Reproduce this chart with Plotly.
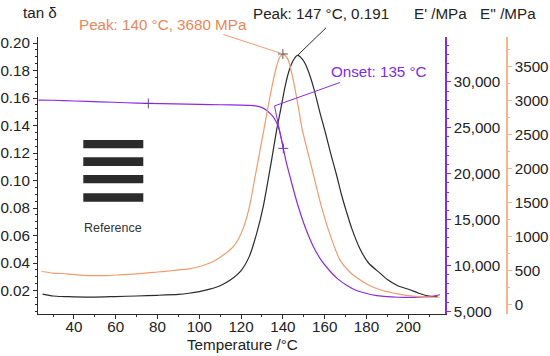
import plotly.graph_objects as go

# ---------------- data ----------------
tan_T = [25, 30, 35, 40, 50, 60, 70, 80, 90, 95, 100, 105, 110, 115, 120, 124, 127.5, 130.6,
         134.6, 137, 139, 141, 143, 145, 147, 149.5, 151, 153, 155, 157.8, 160.5, 163, 165.7,
         168, 170.5, 173, 177, 181, 186.5, 190, 195, 200.8, 205, 210.4, 214]
tan_delta = [0.0174, 0.0160, 0.0156, 0.0154, 0.0152, 0.0156, 0.0160, 0.0165, 0.0172, 0.0180,
             0.0192, 0.0210, 0.0235, 0.0278, 0.0345, 0.045, 0.0617, 0.081,
             0.1149, 0.1366, 0.152, 0.168, 0.180, 0.1875, 0.191, 0.188, 0.184, 0.176, 0.166,
             0.149, 0.134, 0.119, 0.104, 0.090, 0.077, 0.065, 0.050, 0.040, 0.0326, 0.028,
             0.0235, 0.0205, 0.018, 0.0158, 0.0155]

E2_T = [24.5, 30, 36.5, 45, 55, 62, 70, 80, 87.5, 95, 100.3, 106.7, 112, 116.3, 119, 121,
        122.7, 124.3, 126, 128.2, 130, 131.4, 133, 135.4, 137, 138.6, 140, 141.3, 142.6, 145,
        147.4, 149, 151, 152.9, 155.5, 158, 162, 167.3, 172, 176.9, 181, 186.5, 195, 202.3,
        208, 215]
E2 = [488, 465, 454, 430, 428, 439, 452, 480, 502, 525, 561, 634, 740, 854, 980, 1120,
      1280, 1480, 1760, 2123, 2420, 2650, 2920, 3294, 3500, 3635, 3680, 3650, 3587, 3294,
      2903, 2610, 2350, 2123, 1800, 1490, 1080, 659, 480, 366, 290, 220, 160, 125,
      115, 110]

E1_T = [23, 30, 40, 52.5, 65, 75.6, 88, 100.3, 110, 120, 124.3, 127, 130, 132, 134, 135.4,
        136.6, 137.8, 139, 140.2, 141.8, 143.4, 145.5, 147.4, 150, 152, 154.5, 158, 162.5,
        166, 170.5, 175, 180.1, 185, 189.7, 195, 202.4, 207, 210.4, 215.2]
E1 = [28010, 28000, 27920, 27830, 27730, 27650, 27600, 27545, 27510, 27480, 27450, 27380,
      27200, 26950, 26550, 26197, 25750, 25110, 24100, 22760, 21100, 19700, 17900, 16400,
      14600, 13400, 12100, 10700, 9400, 8600, 7850, 7300, 6950, 6720, 6600, 6540, 6522,
      6570, 6630, 6815]

# onset construction (E')
mark_T = [75.6, 140.2]
mark_E = [27650, 22760]
tangent_T = [136, 140.2]
tangent_E = [27380, 22760]
onset_T, onset_E = 136, 27380

peak_tan_T, peak_tan = 147, 0.191
peak_E2_T, peak_E2 = 140, 3680

x_ticks = [40, 60, 80, 100, 120, 140, 160, 180, 200]
tan_ticks = [0.02, 0.04, 0.06, 0.08, 0.10, 0.12, 0.14, 0.16, 0.18, 0.20]
E1_ticks = [5000, 10000, 15000, 20000, 25000, 30000]
E2_ticks = [0, 500, 1000, 1500, 2000, 2500, 3000, 3500]

# ---------------- style ----------------
BLACK = "#2b2b2b"
ORANGE = "#f29b6c"
ORANGE_TXT = "#e8875a"
PURPLE = "#8a2be2"
PURPLE_TXT = "#7a2ee0"
FONT = "Liberation Sans, Arial, sans-serif"
FS = 15.2

fig = go.Figure()
fig.add_trace(go.Scatter(x=tan_T, y=tan_delta, mode="lines", yaxis="y",
                         line=dict(color=BLACK, width=1.2, shape="spline", smoothing=0.6)))
fig.add_trace(go.Scatter(x=E1_T, y=E1, mode="lines", yaxis="y2",
                         line=dict(color=PURPLE, width=1.2, shape="spline", smoothing=0.6)))
fig.add_trace(go.Scatter(x=tangent_T, y=tangent_E, mode="lines", yaxis="y2",
                         line=dict(color=PURPLE, width=1)))
fig.add_trace(go.Scatter(x=E2_T, y=E2, mode="lines", yaxis="y3",
                         line=dict(color=ORANGE, width=1.2, shape="spline", smoothing=0.6)))
fig.add_trace(go.Scatter(x=mark_T, y=mark_E, mode="markers", yaxis="y2",
                         marker=dict(symbol="cross-thin", size=7, line=dict(color="#6a3aa0", width=1))))
fig.add_trace(go.Scatter(x=[peak_E2_T], y=[peak_E2], mode="markers", yaxis="y3",
                         marker=dict(symbol="cross-thin", size=7, line=dict(color="#555", width=1))))

W, H = 550, 356
L, R, T, B = 38, 43, 37, 42
pw = W - L - R
ph = H - T - B
xdom = (445 - L) / pw


def px(xp):
    return (xp - L) / pw


def py(yp):
    return (H - B - yp) / ph


tickfont = dict(family=FONT, size=FS, color="#222")

fig.update_layout(
    width=W, height=H, margin=dict(l=L, r=R, t=T, b=B, autoexpand=False),
    paper_bgcolor="white", plot_bgcolor="white", showlegend=False,
    font=dict(family=FONT, size=FS, color="#222"),
    xaxis=dict(domain=[0, xdom], range=[22.8, 217.6], tickvals=x_ticks, showgrid=False,
               zeroline=False, showline=True, linecolor=BLACK, linewidth=1,
               ticks="outside", ticklen=4, tickcolor=BLACK, tickfont=tickfont,
               ticklabelstandoff=-5,
               minor=dict(dtick=10, ticks="outside", ticklen=2, tickcolor=BLACK)),
    yaxis=dict(range=[0.0029, 0.2044], tickvals=tan_ticks, tickformat=".2f", showgrid=False,
               zeroline=False, showline=True, linecolor=BLACK, linewidth=1,
               ticks="outside", ticklen=4, tickcolor=BLACK, tickfont=tickfont,
               minor=dict(dtick=0.005, tick0=0, ticks="outside", ticklen=2, tickcolor=BLACK)),
    yaxis2=dict(range=[4717, 34890], tickvals=E1_ticks, tickformat=",d", overlaying="y",
                side="right", anchor="x", showgrid=False, zeroline=False, showline=True,
                linecolor=PURPLE, linewidth=1.5, ticks="outside", ticklen=4, tickcolor=PURPLE,
                tickfont=tickfont,
                minor=dict(dtick=1000, tick0=0, ticks="outside", ticklen=2, tickcolor=PURPLE)),
    yaxis3=dict(range=[-136, 3929], tickvals=E2_ticks, tickformat="d", overlaying="y",
                side="right", anchor="free", position=1.0, showgrid=False, zeroline=False,
                showline=True, linecolor="#f5b48a", linewidth=1.5, ticks="outside", ticklen=4,
                tickcolor="#f5b48a", tickfont=tickfont,
                minor=dict(dtick=250, tick0=0, ticks="outside", ticklen=2, tickcolor="#f5b48a")),
)

ann = []
# leader lines
ann.append(dict(x=peak_E2_T, y=peak_E2, xref="x", yref="y3", text="", showarrow=True,
                arrowhead=0, arrowwidth=1, arrowcolor=ORANGE, ax=-61, ay=-20, standoff=0))
ann.append(dict(x=peak_tan_T, y=peak_tan, xref="x", yref="y", text="", showarrow=True,
                arrowhead=0, arrowwidth=1, arrowcolor=BLACK, ax=30, ay=-29, standoff=0))
ann.append(dict(x=onset_T, y=onset_E, xref="x", yref="y2", text="", showarrow=True,
                arrowhead=0, arrowwidth=1, arrowcolor=PURPLE, ax=67, ay=-24, standoff=0))


def txt(t, xp, yp, color="#222", size=FS, xanchor="left"):
    ann.append(dict(text=t, x=px(xp), y=py(yp), xref="paper", yref="paper", showarrow=False,
                    xanchor=xanchor, yanchor="middle", font=dict(family=FONT, size=size, color=color)))


txt("Peak: 140 °C, 3680 MPa", 77, 24, ORANGE_TXT)
txt("Peak: 147 °C, 0.191", 251, 14, "#222")
txt("Onset: 135 °C", 329, 71, PURPLE_TXT)
txt("tan δ", 21, 12)
txt("E' /MPa", 412, 13)
txt("E'' /MPa", 478, 13)
txt("Temperature /°C", 242, 344, xanchor="center")
txt("Reference", 112.5, 228, "#333", 12.5, xanchor="center")
fig.update_layout(annotations=ann)

# redacted legend bars
for y0, y1 in [(140, 148.3), (157.3, 166), (175, 183.3), (193.3, 201.7)]:
    fig.add_shape(type="rect", xref="paper", yref="paper", x0=px(83.3), x1=px(143.3),
                  y0=py(y1), y1=py(y0), fillcolor=BLACK, line=dict(width=0))

fig.write_html("out.html", config={"displayModeBar": False},
               post_script="document.body.style.margin='0px';document.body.style.overflow='hidden';")
